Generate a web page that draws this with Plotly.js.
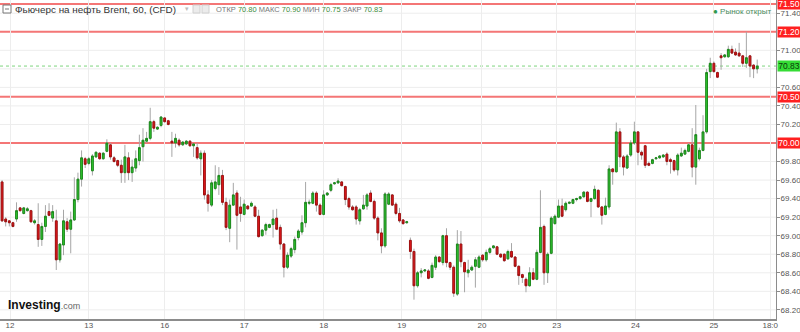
<!DOCTYPE html>
<html><head><meta charset="utf-8">
<script src="https://cdn.plot.ly/plotly-3.0.1.min.js"></script>
<style>html,body{margin:0;padding:0;background:#fff;}#chart{width:800px;height:332px;}</style>
</head><body><div id="chart"></div>
<script>
// Hourly candles (index = hour bar), Brent CFD, 60-minute
const openPrices = [
69.58,69.18,69.16,69.14,69.18,69.30,69.24,69.27,69.27,69.14,
69.12,68.96,69.10,69.26,69.19,69.16,68.74,68.90,69.15,69.07,
69.17,69.39,69.61,69.83,69.78,69.70,69.85,69.89,69.83,69.91,
69.98,69.84,69.81,69.76,69.68,69.84,69.68,69.73,69.81,69.96,
70.02,70.05,70.23,70.15,70.19,70.27,70.24,70.02,70.00,70.03,
69.98,69.99,70.02,69.97,69.95,69.83,69.89,69.44,69.33,69.51,
69.55,69.65,69.36,69.08,69.33,69.46,69.31,69.23,69.32,69.32,
69.31,69.21,69.00,69.06,69.09,69.12,69.19,69.09,68.91,68.66,
68.78,68.85,68.98,69.04,69.14,69.35,69.35,69.46,69.33,69.23,
69.44,69.49,69.56,69.57,69.58,69.53,69.40,69.31,69.31,69.16,
69.29,69.32,69.46,69.37,69.19,69.03,68.89,69.34,69.44,69.34,
69.24,69.17,69.14,68.95,68.83,68.46,68.60,68.62,68.62,68.55,
68.66,68.77,68.71,69.00,68.71,68.66,68.37,68.91,68.71,68.60,
68.63,68.67,68.66,68.79,68.74,68.82,68.87,68.88,68.80,68.80,
68.75,68.83,68.77,68.67,68.58,68.53,68.46,68.60,68.53,68.82,
69.10,68.60,68.81,69.13,69.20,69.32,69.28,69.35,69.35,69.39,
69.40,69.42,69.47,69.37,69.40,69.49,69.31,69.23,69.31,69.72,
69.69,70.12,69.85,69.73,69.87,70.00,70.12,69.90,69.97,69.78,
69.78,69.83,69.84,69.85,69.88,69.82,69.81,69.71,69.86,69.88,
69.91,69.98,69.74,69.83,69.92,70.12,70.77,70.86,70.76,70.94,
70.93,70.93,71.01,70.98,70.97,70.94,70.86,70.94,70.84,70.80];
const highPrices = [
69.60,69.20,69.17,69.15,69.36,69.31,69.31,69.31,69.28,69.18,
69.35,69.14,69.33,69.35,69.33,69.28,68.92,69.28,69.19,69.26,
69.63,69.68,69.92,69.85,69.85,69.88,69.91,69.90,69.90,70.04,
70.00,69.86,69.82,69.82,69.98,69.90,69.82,69.92,70.09,70.16,
70.12,70.38,70.25,70.18,70.29,70.28,70.25,70.12,70.10,70.05,
70.02,70.03,70.03,70.00,70.00,69.92,69.92,69.49,69.60,69.76,
69.74,69.71,69.41,69.39,69.57,69.49,69.42,69.39,69.33,69.37,
69.33,69.28,69.07,69.14,69.13,69.28,69.29,69.12,68.92,68.82,
68.88,68.99,69.07,69.22,69.58,69.39,69.48,69.48,69.35,69.49,
69.47,69.57,69.58,69.62,69.59,69.54,69.42,69.33,69.33,69.30,
69.44,69.46,69.49,69.39,69.21,69.08,69.47,69.47,69.45,69.36,
69.30,69.18,69.16,68.98,68.86,68.62,68.65,68.64,68.64,68.71,
68.79,68.78,69.01,69.08,68.72,68.68,69.06,69.05,68.72,68.74,
68.68,68.77,68.79,68.80,68.85,68.88,68.90,68.89,68.81,68.81,
68.85,68.92,68.78,68.68,68.59,68.55,68.66,68.65,68.85,69.49,
69.12,68.82,69.21,69.23,69.39,69.40,69.37,69.37,69.40,69.41,
69.43,69.48,69.48,69.41,69.54,69.50,69.32,69.41,69.76,69.73,
70.22,70.16,69.87,69.88,70.03,70.23,70.13,69.92,69.98,69.80,
69.83,69.85,69.87,69.88,69.90,69.84,69.82,69.89,69.95,69.94,
70.00,70.16,70.41,69.95,70.30,70.80,70.92,70.88,70.77,70.97,
70.96,71.05,71.05,71.02,71.08,70.95,71.20,70.95,70.85,70.90];
const lowPrices = [
69.15,69.10,69.10,69.09,69.15,69.26,69.23,69.26,69.14,69.12,
68.88,68.89,69.04,69.21,69.15,68.63,68.71,68.79,69.04,68.81,
69.16,69.36,69.53,69.73,69.76,69.65,69.84,69.82,69.82,69.90,
69.82,69.79,69.74,69.57,69.57,69.60,69.58,69.69,69.76,69.80,
70.00,70.03,70.12,70.14,70.17,70.22,70.19,69.85,69.95,69.96,
69.97,69.98,69.96,69.85,69.82,69.65,69.39,69.26,69.31,69.49,
69.44,69.33,69.06,68.93,69.32,68.85,69.15,69.22,69.28,69.31,
69.20,68.98,68.99,69.01,69.08,68.98,69.06,68.85,68.55,68.64,
68.76,68.81,68.95,69.01,69.09,69.33,69.34,69.26,69.22,69.22,
69.43,69.47,69.55,69.56,69.53,69.33,69.28,69.27,69.12,69.12,
69.28,69.28,69.36,69.17,68.95,68.81,68.87,69.33,69.32,69.22,
69.14,69.12,69.13,68.75,68.31,68.44,68.55,68.61,68.53,68.54,
68.63,68.71,68.68,68.66,68.63,68.34,68.35,68.66,68.39,68.55,
68.62,68.44,68.65,68.72,68.72,68.80,68.86,68.79,68.76,68.72,
68.74,68.76,68.66,68.47,68.49,68.39,68.45,68.52,68.52,68.81,
68.47,68.49,68.80,69.12,69.19,69.20,69.26,69.34,69.34,69.37,
69.39,69.41,69.36,69.20,69.39,69.30,69.12,69.22,69.28,69.55,
69.68,69.74,69.65,69.72,69.85,69.98,69.76,69.82,69.73,69.75,
69.77,69.82,69.83,69.84,69.76,69.67,69.69,69.65,69.85,69.87,
69.90,69.63,69.55,69.81,69.91,70.10,70.70,70.76,70.70,70.79,
70.92,70.92,70.96,70.94,70.93,70.82,70.81,70.71,70.70,70.75];
const closePrices = [
69.16,69.15,69.14,69.10,69.27,69.27,69.30,69.29,69.15,69.16,
68.96,69.10,69.21,69.22,69.26,68.74,68.91,69.16,69.07,69.17,
69.39,69.61,69.84,69.77,69.83,69.86,69.90,69.83,69.89,70.00,
69.85,69.80,69.76,69.68,69.85,69.68,69.74,69.83,69.95,70.03,
70.05,70.23,70.16,70.17,70.28,70.23,70.20,70.00,70.05,69.98,
70.01,70.02,69.97,69.99,69.84,69.89,69.44,69.35,69.57,69.58,
69.65,69.36,69.09,69.33,69.44,69.22,69.24,69.34,69.29,69.35,
69.21,68.99,69.06,69.12,69.12,69.18,69.07,68.91,68.66,68.79,
68.86,68.96,69.05,69.14,69.36,69.36,69.46,69.33,69.23,69.44,
69.46,69.55,69.57,69.59,69.54,69.39,69.31,69.28,69.18,69.28,
69.33,69.44,69.37,69.19,69.03,68.89,69.45,69.45,69.33,69.24,
69.16,69.13,69.15,68.83,68.46,68.60,68.62,68.63,68.54,68.68,
68.77,68.72,69.00,68.71,68.66,68.38,68.91,68.72,68.61,68.63,
68.66,68.74,68.77,68.74,68.82,68.86,68.89,68.80,68.77,68.73,
68.83,68.77,68.67,68.57,68.55,68.46,68.60,68.53,68.82,69.09,
68.60,68.80,69.19,69.21,69.32,69.21,69.35,69.36,69.39,69.40,
69.42,69.47,69.37,69.40,69.50,69.31,69.22,69.32,69.72,69.69,
70.12,69.85,69.74,69.86,70.00,70.12,69.90,69.87,69.76,69.76,
69.82,69.84,69.86,69.87,69.80,69.80,69.71,69.87,69.89,69.92,
69.98,69.74,70.09,69.92,70.12,70.76,70.86,70.77,70.71,70.92,
70.95,71.01,70.97,70.95,70.94,70.86,70.92,70.83,70.80,70.83];

const dayLabels = ['12','13','16','17','18','19','20','23','24','25','18:0'];
const dayTickIndex = [2.2,24,45,67,89,110.6,132.8,153.5,175.3,197,212.6];
const gridPrices = [68.2,68.4,68.6,68.8,69.0,69.2,69.4,69.6,69.8,70.0,70.2,70.4,70.6,70.8,71.0,71.2,71.4];
const priceTickLabels = [68.2,68.4,68.6,68.8,69.0,69.2,69.4,69.6,69.8,70.2,70.4,70.6,71.0,71.4];
const levelLines = [71.50, 71.20, 70.50, 70.00];
const lastPrice = 70.83;
const headerTitle = 'Фьючерс на нефть Brent, 60, (CFD)';
const ohlcLabels = ['ОТКР','МАКС','МИН','ЗАКР'];
const ohlcValues = ['70.80','70.90','70.75','70.83'];

const barIndex = openPrices.map((_, i) => i);
const bodyHigh = openPrices.map((o, i) => Math.max(o, closePrices[i]));
const bodyLow = openPrices.map((o, i) => Math.min(o, closePrices[i]));

const FONT = 'Liberation Sans, Arial, sans-serif';
const W = 776, H = 319;
const px = v => v / W;
const py = v => 1 - v / H;

const wicks = {
  type: 'candlestick', x: barIndex, open: openPrices, high: highPrices, low: lowPrices, close: closePrices,
  increasing: {line: {color: '#a6a6a6', width: 1}, fillcolor: '#a6a6a6'},
  decreasing: {line: {color: '#a6a6a6', width: 1}, fillcolor: '#a6a6a6'},
  hoverinfo: 'skip', showlegend: false
};
const bodies = {
  type: 'candlestick', x: barIndex, open: openPrices, high: bodyHigh, low: bodyLow, close: closePrices,
  increasing: {line: {color: '#1c8a1c', width: 1}, fillcolor: '#2fcb2f'},
  decreasing: {line: {color: '#a01010', width: 1}, fillcolor: '#e8181c'},
  hoverinfo: 'skip', showlegend: false
};

const shapes = [];
const annotations = [];
gridPrices.forEach(g => {
  shapes.push({type: 'line', xref: 'paper', x0: 0, x1: 1, yref: 'y', y0: g, y1: g,
    line: {color: '#ededed', width: 1}, layer: 'below'});
});
levelLines.forEach(l => {
  shapes.push({type: 'line', xref: 'paper', x0: 0, x1: 1, yref: 'y', y0: l, y1: l,
    line: {color: '#f47676', width: 2}, layer: 'between'});
  annotations.push({xref: 'paper', x: 1, xanchor: 'left', xshift: 1, yref: 'y', y: l, yanchor: 'middle',
    text: l.toFixed(2), showarrow: false, bgcolor: '#ff2020', width: 22, height: 10, borderpad: 0,
    font: {family: FONT, size: 8.5, color: '#ffffff'}});
});
shapes.push({type: 'line', xref: 'paper', x0: 0, x1: 1, yref: 'y', y0: lastPrice, y1: lastPrice,
  line: {color: '#7fd47f', width: 1, dash: 'dot'}, layer: 'between'});
annotations.push({xref: 'paper', x: 1, xanchor: 'left', xshift: 1, yref: 'y', y: lastPrice, yanchor: 'middle',
  text: lastPrice.toFixed(2), showarrow: false, bgcolor: '#35dc35', width: 22, height: 10, borderpad: 0,
  font: {family: FONT, size: 8.5, color: '#0b3a0b'}});

shapes.push({type: 'rect', xref: 'paper', yref: 'paper', x0: px(3), x1: px(11), y0: py(13), y1: py(5),
  line: {color: '#777', width: 1}, fillcolor: '#fff', layer: 'above'});
shapes.push({type: 'line', xref: 'paper', yref: 'paper', x0: px(5), x1: px(9), y0: py(9), y1: py(9),
  line: {color: '#777', width: 1}, layer: 'above'});
shapes.push({type: 'rect', xref: 'paper', yref: 'paper', x0: px(193), x1: px(200), y0: py(13), y1: py(5),
  line: {color: '#d0d0d0', width: 1}, fillcolor: '#ececec', layer: 'above'});
shapes.push({type: 'rect', xref: 'paper', yref: 'paper', x0: px(202), x1: px(209), y0: py(13), y1: py(5),
  line: {color: '#d0d0d0', width: 1}, fillcolor: '#ececec', layer: 'above'});

annotations.push({xref: 'paper', yref: 'paper', x: px(13), y: py(9), xanchor: 'left', yanchor: 'middle',
  text: headerTitle, showarrow: false, font: {family: FONT, size: 9.9, color: '#333'}});
annotations.push({xref: 'paper', yref: 'paper', x: px(183), y: py(9), xanchor: 'left', yanchor: 'middle',
  text: '▾', showarrow: false, font: {family: 'DejaVu Sans', size: 7, color: '#bbb'}});
const ohlcText = ohlcLabels.map((lab, i) => lab + ' <span style="color:#3c8c3c">' + ohlcValues[i] + '</span>').join(' ');
annotations.push({xref: 'paper', yref: 'paper', x: px(214), y: py(9), xanchor: 'left', yanchor: 'middle',
  text: ohlcText, showarrow: false, font: {family: FONT, size: 7.5, color: '#777'}});
annotations.push({xref: 'paper', yref: 'paper', x: px(773), y: py(12), xanchor: 'right', yanchor: 'middle',
  text: '<span style="color:#2e9a4e">●</span> Рынок открыт', showarrow: false,
  font: {family: FONT, size: 8, color: '#4b8c60'}});
annotations.push({xref: 'paper', yref: 'paper', x: px(6), y: py(305), xanchor: 'left', yanchor: 'middle',
  text: '<b>Investing</b><span style="font-size:9px;color:#666">.com</span>', showarrow: false,
  font: {family: FONT, size: 12, color: '#111'}});

const layout = {
  width: 800, height: 332,
  margin: {l: 0, r: 24, t: 0, b: 13, pad: 0},
  paper_bgcolor: '#fff', plot_bgcolor: '#fff',
  showlegend: false, boxgap: 0.3,
  xaxis: {range: [-0.575, 214.2], tickmode: 'array', tickvals: dayTickIndex, ticktext: dayLabels,
    showgrid: true, gridcolor: '#ededed', gridwidth: 1, zeroline: false,
    showline: true, linecolor: '#8c8c8c', linewidth: 2, ticks: '', ticklabelstandoff: -3,
    tickfont: {family: FONT, size: 8, color: '#555'}, rangeslider: {visible: false}, fixedrange: true},
  yaxis: {side: 'right', range: [68.1014, 71.5426], tickmode: 'array', tickvals: priceTickLabels, tickformat: '.2f',
    ticks: 'outside', ticklen: 3, tickcolor: '#8c8c8c', showline: true, linecolor: '#8c8c8c', linewidth: 1,
    showgrid: false, zeroline: false, ticklabelstandoff: -1,
    tickfont: {family: FONT, size: 8, color: '#555'}, fixedrange: true},
  shapes: shapes, annotations: annotations
};
Plotly.newPlot('chart', [wicks, bodies], layout, {displayModeBar: false, staticPlot: true});
</script></body></html>
